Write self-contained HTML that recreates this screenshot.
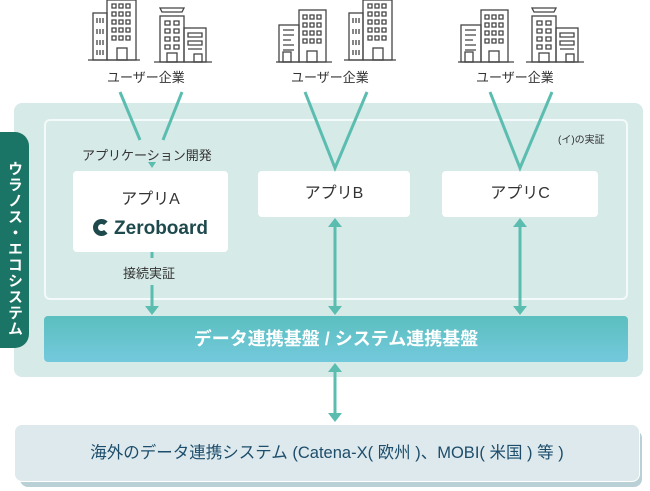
<!DOCTYPE html>
<html><head><meta charset="utf-8"><style>
body{margin:0;width:650px;height:491px;background:#fff;position:relative;overflow:hidden;font-family:"Liberation Sans","Noto Sans CJK JP",sans-serif;}
.a{position:absolute;box-sizing:border-box;}
.lbl{position:absolute;font-size:13px;color:#333;white-space:nowrap;}
.app{position:absolute;background:#fff;border-radius:4px;text-align:center;font-size:16px;color:#333;}
</style></head><body>
<div class="a" style="left:14px;top:103px;width:629px;height:274px;background:#d6eae7;border-radius:8px;"></div>
<div class="a" style="left:44px;top:119px;width:584px;height:181px;border:2px solid #f4faf9;border-radius:6px;"></div>
<div class="a" style="left:0;top:132px;width:29px;height:216px;background:#1b7566;border-radius:0 14px 14px 0;color:#fff;font-size:15px;font-weight:bold;writing-mode:vertical-rl;text-align:center;line-height:29px;letter-spacing:1px;padding-top:18px;">ウラノス・エコシステム</div>
<div class="app" style="left:73px;top:171px;width:155px;height:81px;"><div style="margin-top:14px;">アプリA</div>
<div style="margin-top:9px;font-size:19px;font-weight:bold;color:#1f4a4d;"><span style="display:inline-block;width:17px;height:17px;border-radius:50%;border:5px solid #1f4a4d;border-right-color:transparent;box-sizing:border-box;vertical-align:-2px;margin-right:4px;"></span>Zeroboard</div></div>
<div class="app" style="left:258px;top:171px;width:152px;height:46px;line-height:46px;">アプリB</div>
<div class="app" style="left:442px;top:171px;width:156px;height:46px;line-height:46px;">アプリC</div>
<div class="a" style="left:44px;top:316px;width:584px;height:46px;border-radius:4px;background:linear-gradient(#5bbfbf,#73c9dc);color:#fff;font-size:18px;font-weight:bold;text-align:center;line-height:46px;">データ連携基盤 / システム連携基盤</div>
<div class="a" style="left:20px;top:430px;width:622px;height:57px;background:#b9d0d6;border-radius:8px;"></div>
<div class="a" style="left:14px;top:424px;width:626px;height:58px;background:#dde9ec;border-radius:8px;border:1px solid #fff;color:#1d4d6b;font-size:16.5px;text-align:center;line-height:56px;">海外のデータ連携システム (Catena-X( 欧州 )、MOBI( 米国 ) 等 )</div>
<div class="lbl" style="left:107px;top:67px;">ユーザー企業</div>
<div class="lbl" style="left:291px;top:67px;">ユーザー企業</div>
<div class="lbl" style="left:476px;top:67px;">ユーザー企業</div>
<div class="lbl" style="left:82px;top:145px;">アプリケーション開発</div>
<div class="lbl" style="left:123px;top:263px;">接続実証</div>
<div class="lbl" style="left:558px;top:131px;font-size:10px;">(イ)の実証</div>
<svg class="a" style="left:0;top:0" width="650" height="491">
<defs>
<g id="i1" fill="none" stroke="#444" stroke-width="1.3">
<line x1="0" y1="60" x2="56" y2="60"/><rect x="3" y="23" width="20" height="37"/><rect x="23" y="8" width="27" height="52"/>
<path d="M7 28h11M7 33h11M7 38h8M7 43h11M7 48h11"/><rect x="7" y="50" width="8" height="10"/><rect x="31" y="49" width="10" height="11"/>
<path d="M27 13h4v4h-4zM34 13h4v4h-4zM41 13h4v4h-4zM27 21h4v4h-4zM34 21h4v4h-4zM41 21h4v4h-4zM27 29h4v4h-4zM34 29h4v4h-4zM41 29h4v4h-4zM27 37h4v4h-4zM34 37h4v4h-4zM41 37h4v4h-4z"/></g>
<g id="i2" fill="none" stroke="#444" stroke-width="1.3">
<line x1="0" y1="60" x2="52" y2="60"/><rect x="5" y="13" width="14" height="47"/><rect x="19" y="0" width="29" height="60"/>
<path d="M9 18v5M12 18v5M15 18v5M9 29v5M12 29v5M15 29v5M9 40v5M12 40v5M15 40v5M9 50v5M12 50v5M15 50v5"/>
<path d="M24 4h4v4h-4zM31 4h4v4h-4zM38 4h4v4h-4zM24 12h4v4h-4zM31 12h4v4h-4zM38 12h4v4h-4zM24 20h4v4h-4zM31 20h4v4h-4zM38 20h4v4h-4zM24 28h4v4h-4zM31 28h4v4h-4zM38 28h4v4h-4zM24 36h4v4h-4zM31 36h4v4h-4zM38 36h4v4h-4z"/><rect x="29" y="48" width="10" height="12"/></g>
<g id="i3" fill="none" stroke="#444" stroke-width="1.3">
<line x1="0" y1="60" x2="58" y2="60"/><path d="M6 6h24l-2 4H8z"/><rect x="6" y="14" width="24" height="46"/><rect x="30" y="26" width="22" height="34"/>
<path d="M11 19h5v4h-5zM20 19h5v4h-5zM11 27h5v4h-5zM20 27h5v4h-5zM11 35h5v4h-5zM20 35h5v4h-5zM11 43h5v4h-5zM20 43h5v4h-5z"/><rect x="13" y="51" width="10" height="9"/>
<path d="M34 31h14v4h-14zM34 39h14v4h-14zM34 47h14"/><rect x="40" y="52" width="8" height="8"/></g>
</defs>
<use href="#i2" x="88" y="0"/><use href="#i3" x="154" y="2"/>
<use href="#i1" x="276" y="2"/><use href="#i2" x="344" y="0"/>
<use href="#i1" x="458" y="2"/><use href="#i3" x="526" y="2"/>
<g stroke="#5bbdb0" stroke-width="3" fill="none">
<path d="M120 92L140 140M182 92L163 140"/>
<path d="M305 92L335 168L367 92"/>
<path d="M490 92L520 168L552 92"/>
<path d="M152 252V258M152 285V308"/>
<path d="M335 227V306M520 227V306M335 372V413"/>
</g>
<g fill="#5bbdb0">
<path d="M148 162h8l-4 6z"/>
<path d="M145 306h14l-7 9z"/>
<path d="M328 306h14l-7 9zM328 227h14l-7-9zM513 306h14l-7 9zM513 227h14l-7-9z"/>
<path d="M328 372h14l-7-9zM328 413h14l-7 9z"/>
</g>
</svg>
</body></html>
